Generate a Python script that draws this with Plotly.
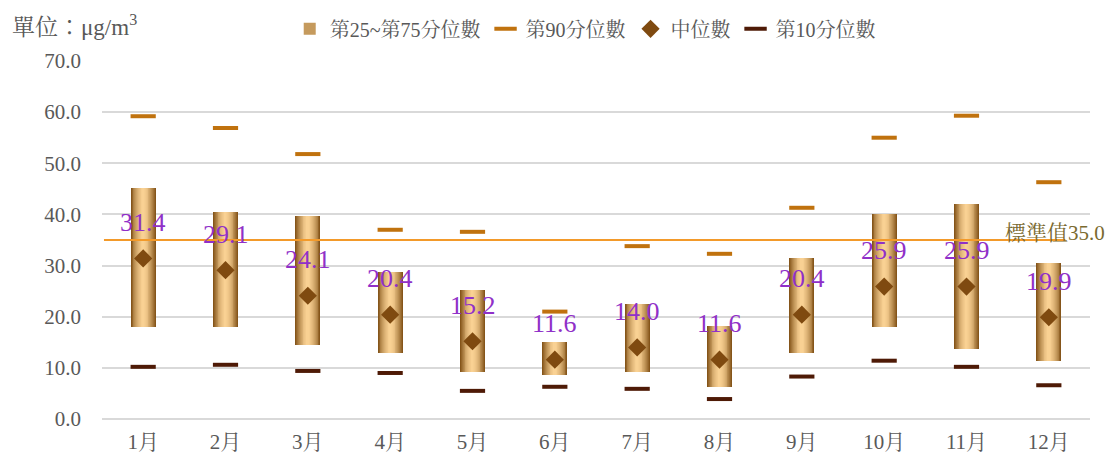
import plotly.graph_objects as go

months = ["1月", "2月", "3月", "4月", "5月", "6月", "7月", "8月", "9月", "10月", "11月", "12月"]
p25 = [18.0, 18.0, 14.5, 13.0, 9.1, 8.7, 9.1, 6.3, 13.0, 18.0, 13.7, 11.4]
p75 = [45.1, 40.4, 39.6, 28.7, 25.2, 15.0, 22.5, 18.2, 31.5, 40.1, 42.0, 30.6]
p90 = [59.2, 56.9, 51.8, 37.0, 36.6, 21.0, 33.8, 32.3, 41.3, 55.0, 59.3, 46.3]
p10 = [10.2, 10.6, 9.4, 9.0, 5.5, 6.3, 5.9, 3.9, 8.3, 11.4, 10.2, 6.6]
median = [31.4, 29.1, 24.1, 20.4, 15.2, 11.6, 14.0, 11.6, 20.4, 25.9, 25.9, 19.9]
standard = 35.0

FONT = "Liberation Serif, Noto Serif CJK TC, Noto Sans CJK TC, serif"
GRAY = "#595959"

dark = (0x85, 0x55, 0x1a)
light = (0xfa, 0xd2, 0x94)

def lerp(a, b, t):
    return "rgb(%d,%d,%d)" % tuple(round(a[i] + (b[i] - a[i]) * t) for i in range(3))

fig = go.Figure()
heights = [h - l for h, l in zip(p75, p25)]
N = 14
W = 0.30
for i in range(N):
    f = 1 - i / N
    col = lerp(light, dark, f ** 1.8)
    fig.add_trace(go.Bar(
        x=months, y=heights, base=p25, width=W * f,
        marker=dict(color=col, line=dict(width=0)),
        name="第25~第75分位數", legendgroup="box",
        showlegend=(i == 5), legendrank=1, hoverinfo="skip",
    ))

fig.add_trace(go.Scatter(
    x=months, y=p90, mode="markers", name="第90分位數", legendrank=2,
    marker=dict(symbol="line-ew", size=18, line=dict(color="#C0720E", width=4)),
))
fig.add_trace(go.Scatter(
    x=months, y=median, mode="markers", name="中位數", legendrank=3,
    marker=dict(symbol="diamond", size=14, color="#7F4A10"),
))
fig.add_trace(go.Scatter(
    x=months, y=p10, mode="markers", name="第10分位數", legendrank=4,
    marker=dict(symbol="line-ew", size=18, line=dict(color="#4E1A06", width=4)),
))

fig.add_shape(type="line", xref="paper", yref="y", x0=0.002, x1=0.975,
              y0=standard, y1=standard, line=dict(color="#F39A2A", width=2))
fig.add_annotation(xref="paper", yref="y", x=1.017, y=standard, yshift=7,
                   xanchor="right", yanchor="middle", showarrow=False,
                   text="標準值%.1f" % standard,
                   font=dict(family=FONT, size=21, color="#7A6A30"))

for m, v in zip(months, median):
    fig.add_annotation(x=m, y=v, yshift=36, showarrow=False, text="%.1f" % v,
                       font=dict(family=FONT, size=26, color="#9030C8"))

fig.add_annotation(xref="paper", yref="paper", x=-0.093, y=1.10, xanchor="left",
                   yanchor="middle", showarrow=False,
                   text="單位：μg/m<sup>3</sup>",
                   font=dict(family=FONT, size=23, color=GRAY))

fig.update_layout(
    width=1113, height=461,
    margin=dict(l=102, r=23, t=61, b=42, autoexpand=False),
    paper_bgcolor="white", plot_bgcolor="white",
    barmode="overlay", bargap=0,
    font=dict(family=FONT, size=20, color=GRAY),
    legend=dict(orientation="h", x=0.19, y=1.09, xanchor="left", yanchor="middle",
                font=dict(family=FONT, size=20, color=GRAY),
                itemwidth=30, tracegroupgap=0),
    showlegend=True,
)
fig.update_yaxes(range=[0, 70], dtick=10, tickformat=".1f", showgrid=True,
                 gridcolor="#D9D9D9", gridwidth=2, zeroline=True,
                 zerolinecolor="#D9D9D9", zerolinewidth=2, showline=False,
                 ticks="", ticklabelstandoff=20, automargin=False,
                 tickfont=dict(family=FONT, size=21, color=GRAY))
fig.update_xaxes(range=[-0.5, len(months) - 0.5], showgrid=False, showline=False,
                 ticks="", ticklabelstandoff=8, automargin=False,
                 tickfont=dict(family=FONT, size=21, color=GRAY))

fig.write_html("out.html")
